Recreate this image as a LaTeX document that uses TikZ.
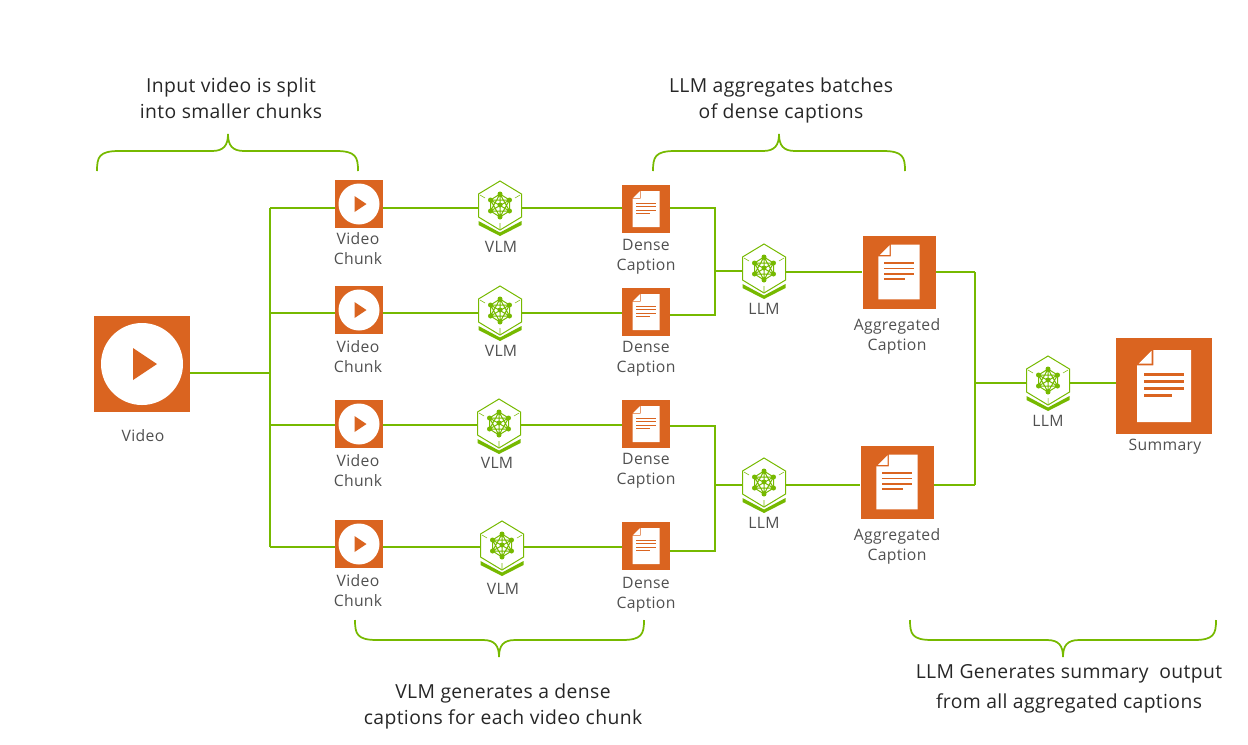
\documentclass[tikz,border=0pt]{standalone}
\usepackage{fontspec}
\setmainfont[LetterSpace=2]{Open Sans}
\usepackage{xcolor}
\definecolor{nvgreen}{HTML}{76B900}
\definecolor{nvorange}{HTML}{DA6420}
\definecolor{muted}{HTML}{505050}
\tikzset{
  wire/.style={draw=nvgreen,line width=1.8pt},
  curly/.style={draw=nvgreen,line width=1.3pt},
  smalltile/.style={fill=nvorange,inner sep=0pt,minimum size=36pt},
  midtile/.style={fill=nvorange,inner sep=0pt,minimum size=54.75pt},
  bigtile/.style={fill=nvorange,inner sep=0pt,minimum size=72pt},
  hexnode/.style={inner sep=0pt,minimum width=32.25pt,minimum height=37.5pt},
  caption/.style={align=center,color=muted,font=\fontsize{11.8}{15}\selectfont},
  note/.style={align=center,color=black!85,font=\fontsize{14.5}{19.5}\selectfont},
  playicon/.pic={
    \fill[white] (0,0) circle (20.5);
    \fill[nvorange] (-4.5,-8) -- (7.5,0) -- (-4.5,8) -- cycle;
  },
  docicon/.pic={
    \fill[white] (-5.3,-18) -- (13.5,-18) -- (13.5,18) -- (-13.5,18) -- (-13.5,-10.3) -- (-5.3,-10.3) -- cycle;
    \fill[white] (-12.6,-11.2) -- (-6.2,-11.2) -- (-6.2,-17.6) -- cycle;
    \foreach \ly/\lx in {-5.8/10,-2.3/10,1.2/10,4.7/4}
      \fill[nvorange] (-10,\ly-.55) rectangle (\lx,\ly+.55);
  },
  hexicon/.pic={
    \draw[nvgreen,line width=.75pt] (0,-25) -- (21.5,-12) -- (21.5,11) -- (0,24) -- (-21.5,11) -- (-21.5,-12) -- cycle;
    \fill[nvgreen] (-21.5,15) -- (0,26.5) -- (21.5,15) -- (21.5,19) -- (0,30) -- (-21.5,19) -- cycle;
    \draw[nvgreen,line width=.4pt] (-20,-11) -- (-15,-8) (20,-11) -- (15,-8) (0,23) -- (0,17);
    \draw[nvgreen,line width=.75pt] (0,-12) -- (9.5,-6) -- (9.5,5) -- (0,11) -- (-9.5,5) -- (-9.5,-6) -- cycle
      (0,-12) -- (0,11) (9.5,-6) -- (-9.5,5) (-9.5,-6) -- (9.5,5)
      (0,-12) -- (9.5,5) -- (-9.5,5) -- cycle (0,11) -- (9.5,-6) -- (-9.5,-6) -- cycle;
    \foreach \p in {(0,-12),(9.5,-6),(9.5,5),(0,11),(-9.5,5),(-9.5,-6),(0,-1)}
      \fill[nvgreen] \p circle (2.5);
  },
}
\newcommand{\curlybrace}[5]{% left, tip, right, end level, direction
  \draw[curly] (#1,#4) .. controls (#1,#4+#5*14) and (#1+2,#4+#5*20) .. (#1+22,#4+#5*20)
    -- (#2-16,#4+#5*20) .. controls (#2-4,#4+#5*20) and (#2,#4+#5*26) .. (#2,#4+#5*37)
    .. controls (#2,#4+#5*26) and (#2+4,#4+#5*20) .. (#2+16,#4+#5*20)
    -- (#3-22,#4+#5*20) .. controls (#3-2,#4+#5*20) and (#3,#4+#5*14) .. (#3,#4);
}
\begin{document}
\begin{tikzpicture}[x=.75pt,y=-.75pt]
  \useasboundingbox (0,0) rectangle (1248,744);
  \node[bigtile] (video) at (142,364) {};
  \pic[scale=2] at (video) {playicon};
  \node[caption] (videotxt) at (143,435.5) {Video};
  \foreach \i/\w/\cy/\hx/\hy/\dy/\cl/\lx/\ly/\dl in {
      1/208/204/500/206/209/249/501/247/257,
      2/313/310/500/311/312/357/501/351/359,
      3/425/424/499/424/424/471/497/463/471,
      4/547/544/502/546/546/591/503/589/595}{
    \coordinate (w\i) at (270,\w);
    \node[smalltile] (c\i) at (359,\cy) {};
    \pic at (c\i) {playicon};
    \node[caption] (ctxt\i) at (358,\cl) {Video\\Chunk};
    \node[hexnode] (v\i) at (\hx,\hy) {};
    \pic at (v\i) {hexicon};
    \node[caption] (vtxt\i) at (\lx,\ly) {VLM};
    \node[smalltile] (d\i) at (646,\dy) {};
    \pic at (d\i) {docicon};
    \node[caption] (dtxt\i) at (646,\dl) {Dense\\Caption};
    \draw[wire] (w\i) -- (c\i.west |- w\i);
    \draw[wire] (c\i.east |- w\i) -- (v\i.west |- w\i);
    \draw[wire] (v\i.east |- w\i) -- (d\i.west |- w\i);
  }
  \foreach \i/\hy/\ly/\ax/\ay/\al/\by in {1/269/309/899/272/336/272,2/483/523/897/482/546/485}{
    \node[hexnode] (l\i) at (764,\hy) {};
    \pic at (l\i) {hexicon};
    \node[caption] (ltxt\i) at (764,\ly) {LLM};
    \node[midtile] (a\i) at (\ax,\ay) {};
    \pic[scale=1.52] at (a\i) {docicon};
    \node[caption] (atxt\i) at (897,\al) {Aggregated\\Caption};
    \coordinate (b\i) at (975,\by);
    \draw[wire] (l\i.east |- b\i) -- (a\i.west |- b\i);
    \draw[wire] (a\i.east |- b\i) -- (b\i);
  }
  \node[hexnode] (l3) at (1048,381) {};
  \pic at (l3) {hexicon};
  \node[caption] (ltxt3) at (1048,421) {LLM};
  \node[bigtile] (summary) at (1164,386) {};
  \pic[scale=2] at (summary) {docicon};
  \node[caption] (stxt) at (1165,447) {Summary};
  \coordinate (split) at (270,373);
  \coordinate (m1) at (715,271);
  \coordinate (m2) at (715,485);
  \coordinate (b3) at (975,383);
  \foreach \i/\oy in {1/208,2/315,3/426,4/551}
    \coordinate (o\i) at (715,\oy);
  \draw[wire] (video.east |- split) -- (split);
  \draw[wire] (w1) -- (w4);
  \draw[wire] (d1.east |- o1) -- (o1) -- (o2) -- (d2.east |- o2);
  \draw[wire] (d3.east |- o3) -- (o3) -- (o4) -- (d4.east |- o4);
  \draw[wire] (m1) -- (l1.west |- m1);
  \draw[wire] (m2) -- (l2.west |- m2);
  \draw[wire] (b1) -- (b2);
  \draw[wire] (b3) -- (l3.west |- b3);
  \draw[wire] (l3.east |- b3) -- (summary.west |- b3);
  \curlybrace{97}{228}{358}{171}{-1}
  \curlybrace{653}{779}{905}{171}{-1}
  \curlybrace{355}{499}{644}{620}{1}
  \curlybrace{910}{1063}{1216}{620}{1}
  \node[note] (n1) at (231,98) {Input video is split\\into smaller chunks};
  \node[note] (n2) at (781,100) {LLM aggregates batches\\of dense captions};
  \node[note] (n3) at (503,706) {VLM generates a dense\\captions for each video chunk};
  \node[note] (n4) at (1069,689) {LLM Generates summary\ \ output\\[3pt]from all aggregated captions};
\end{tikzpicture}
\end{document}
